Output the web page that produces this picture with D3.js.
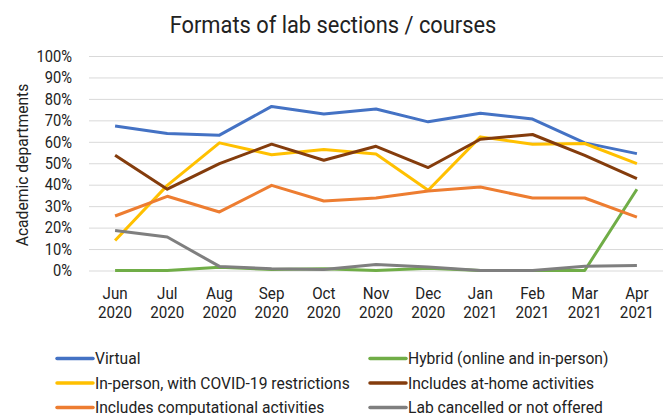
<!DOCTYPE html>
<html lang="en">
<head>
    <meta charset="utf-8">
    <title>Formats of lab sections</title>
    <script type="text/javascript" src="https://d3js.org/d3.v7.min.js"></script>
    <style>
        body { margin: 0; background: white; }
        text { font-family: Roboto, "Noto Sans", sans-serif; fill: #222; }
        .grid line { stroke: #d9d9d9; stroke-width: 1; }
        .tick text { font-size: 16.5px; }
    </style>
</head>
<body>
    <div id="chart"></div>
    <script type="text/javascript">
        // data
        const months = ["Jun", "Jul", "Aug", "Sep", "Oct", "Nov", "Dec", "Jan", "Feb", "Mar", "Apr"];
        const years = ["2020", "2020", "2020", "2020", "2020", "2020", "2020", "2021", "2021", "2021", "2021"];
        const yTicks = [0, 10, 20, 30, 40, 50, 60, 70, 80, 90, 100];

        const seriesNames = [
            "Virtual",
            "Hybrid (online and in-person)",
            "In-person, with COVID-19 restrictions",
            "Includes at-home activities",
            "Includes computational activities",
            "Lab cancelled or not offered"
        ];
        const seriesColors = ["#4472c4", "#70ad47", "#ffc000", "#843c0c", "#ed7d31", "#7f7f7f"];

        const virtual = [67.4, 63.9, 63.1, 76.5, 73.0, 75.3, 69.3, 73.3, 70.6, 59.5, 54.5];
        const hybrid = [0, 0, 1.5, 0.5, 0.8, 0, 1.0, 0, 0, 0, 37.9];
        const inPerson = [14.0, 39.7, 59.5, 54.0, 56.4, 54.3, 37.4, 62.3, 58.9, 59.2, 49.8];
        const atHome = [53.7, 37.9, 49.8, 58.9, 51.4, 57.9, 48.0, 61.2, 63.4, 53.7, 42.8];
        const computational = [25.4, 34.6, 27.3, 39.7, 32.4, 33.8, 37.1, 38.9, 33.8, 33.8, 24.9];
        const cancelled = [18.7, 15.6, 1.9, 0.8, 0.5, 2.8, 1.6, 0, 0, 2.0, 2.3];

        const seriesValues = [virtual, hybrid, inPerson, atHome, computational, cancelled];

        const width = 668;
        const height = 415;
        const margin = {top: 56, right: 5, bottom: 145, left: 89};

        // the reference font is a condensed face, squeeze text horizontally round its anchor
        function condense(sel, k) {
            sel.each(function() {
                const ax = +this.getAttribute("x") || 0;
                d3.select(this).attr("transform", `translate(${ax * (1 - k)},0) scale(${k},1)`);
            });
        }

        const svg = d3.select("#chart")
            .append("svg")
            .attr("width", width)
            .attr("height", height);

        const x = d3.scaleBand()
            .domain(months.map((m, i) => i))
            .range([margin.left, width - margin.right]);

        const y = d3.scaleLinear()
            .domain([0, 100])
            .range([height - margin.bottom + 0.5, margin.top]);

        // title
        svg.append("text")
            .attr("x", 333)
            .attr("y", 33)
            .attr("text-anchor", "middle")
            .style("font-size", "24px")
            .text("Formats of lab sections / courses")
            .call(condense, 0.91);

        // gridlines + y labels
        const yAxis = svg.append("g")
            .attr("class", "grid")
            .attr("transform", `translate(${margin.left},0)`)
            .call(d3.axisLeft(y)
                .tickValues(yTicks)
                .tickSize(-(width - margin.left - margin.right))
                .tickPadding(17)
                .tickFormat(d => d + "%"));
        yAxis.select(".domain").remove();
        yAxis.selectAll(".tick text").call(condense, 0.89);

        // y axis title
        svg.append("text")
            .attr("transform", "translate(28,165) rotate(-90) scale(0.92,1)")
            .attr("text-anchor", "middle")
            .style("font-size", "17px")
            .text("Academic departments");

        // x labels, two lines
        const xAxis = svg.append("g")
            .attr("transform", `translate(0,${height - margin.bottom})`)
            .call(d3.axisBottom(x).tickSize(0).tickFormat(""));
        xAxis.select(".domain").remove();
        xAxis.selectAll(".tick").each(function(d) {
            const t = d3.select(this).append("text")
                .attr("text-anchor", "middle")
                .style("font-size", "16.5px");
            t.append("tspan").attr("x", 0).attr("y", 29).text(months[d]);
            t.append("tspan").attr("x", 0).attr("y", 48.5).text(years[d]);
            t.call(condense, 0.92);
        });

        // lines
        const line = d3.line()
            .x((d, i) => x(i) + x.bandwidth() / 2)
            .y(d => y(d));

        svg.append("g")
            .selectAll("path")
            .data(seriesValues)
            .enter()
            .append("path")
                .attr("d", d => line(d))
                .attr("fill", "none")
                .attr("stroke", (d, i) => seriesColors[i])
                .attr("stroke-width", 3)
                .attr("stroke-linejoin", "round");

        // legend
        const legend = svg.append("g")
            .selectAll("g")
            .data(seriesNames)
            .enter()
            .append("g")
                .attr("transform", (d, i) => `translate(${i % 2 === 0 ? 57 : 370},${358.5 + Math.floor(i / 2) * 24.5})`);

        legend.append("line")
            .attr("x1", 0)
            .attr("x2", 36)
            .attr("stroke", (d, i) => seriesColors[i])
            .attr("stroke-width", 3.5)
            .attr("stroke-linecap", "round");

        legend.append("text")
            .attr("x", 38)
            .attr("dy", "0.35em")
            .style("font-size", "17px")
            .text(d => d)
            .call(condense, 0.92);
    </script>
</body>
</html>
